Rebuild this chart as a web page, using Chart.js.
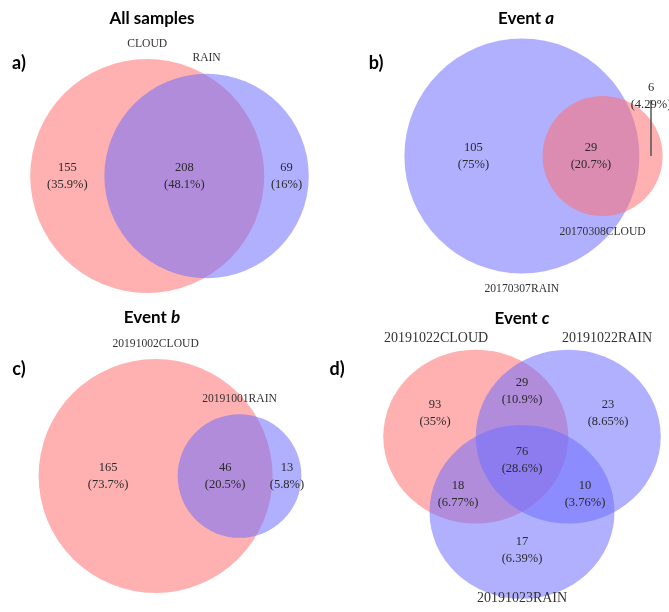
<!DOCTYPE html>
<html>
<head>
<meta charset="utf-8">
<script src="https://cdn.jsdelivr.net/npm/chart.js@4.4.1/dist/chart.umd.min.js"></script>
<style>
  body { margin: 0; background: #fff; width: 669px; height: 612px; position: relative; overflow: hidden; }
  canvas { position: absolute; }
</style>
</head>
<body>
<canvas id="pa" width="334" height="306" style="left:0;top:0"></canvas>
<canvas id="pb" width="335" height="306" style="left:334px;top:0"></canvas>
<canvas id="pc" width="334" height="306" style="left:0;top:306px"></canvas>
<canvas id="pd" width="347" height="306" style="left:322px;top:306px"></canvas>
<script>
// set names and region counts (two sets: only first, both, only second)
const namesA = ["CLOUD", "RAIN"];
const countsA = [155, 208, 69];
const namesB = ["20170307RAIN", "20170308CLOUD"];
const countsB = [105, 29, 6];
const namesC = ["20191002CLOUD", "20191001RAIN"];
const countsC = [165, 46, 13];
// three sets: only1, 1&2, only2, 1&3, all, 2&3, only3
const namesD = ["20191022CLOUD", "20191022RAIN", "20191023RAIN"];
const countsD = [93, 29, 23, 18, 76, 10, 17];

const RED = "rgba(255,111,111,0.55)";
const BLUE = "rgba(111,111,255,0.55)";
const SERIF = '"Liberation Serif", "Times New Roman", serif';
const SANS = 'Lato, "Open Sans", sans-serif';
const TXT = "#2a2a2a";

function pct(v, total) {
  return "(" + Number((v / total * 100).toPrecision(3)) + "%)";
}

function lens(r1, r2, d) {
  if (d >= r1 + r2) return 0;
  if (d <= Math.abs(r1 - r2)) return Math.PI * Math.min(r1, r2) ** 2;
  const a1 = Math.acos((d * d + r1 * r1 - r2 * r2) / (2 * d * r1));
  const a2 = Math.acos((d * d + r2 * r2 - r1 * r1) / (2 * d * r2));
  return r1 * r1 * a1 + r2 * r2 * a2 -
    0.5 * Math.sqrt((-d + r1 + r2) * (d + r1 - r2) * (d - r1 + r2) * (d + r1 + r2));
}

function solveDist(r1, r2, area) {
  let lo = Math.abs(r1 - r2), hi = r1 + r2;
  for (let i = 0; i < 60; i++) {
    const mid = (lo + hi) / 2;
    if (lens(r1, r2, mid) > area) lo = mid; else hi = mid;
  }
  return (lo + hi) / 2;
}

// area proportional two-set layout
function pairVenn(names, counts, colors, lay) {
  const n1 = counts[0] + counts[1], n2 = counts[1] + counts[2];
  const k = lay.R / Math.sqrt(Math.max(n1, n2));
  const r1 = k * Math.sqrt(n1), r2 = k * Math.sqrt(n2);
  const d = solveDist(r1, r2, counts[1] * Math.PI * r1 * r1 / n1);
  const x1 = lay.cx - (d + r2 - r1) / 2, x2 = x1 + d;
  const circles = [{ x: x1, y: lay.cy, r: r1 }, { x: x2, y: lay.cy, r: r2 }];
  const regionX = [(x1 - r1 + x2 - r2) / 2, (x2 - r2 + x1 + r1) / 2, (x1 + r1 + x2 + r2) / 2];
  const total = counts.reduce((a, b) => a + b, 0);
  const labels = [], lines = [];
  counts.forEach((c, i) => {
    let ay = lay.cy;
    if (lay.callout && lay.callout.region === i) {
      ay = lay.cy - lay.callout.lift;
      lines.push({ x: regionX[i], y1: ay + 3.5, y2: lay.cy });
    }
    labels.push({ x: regionX[i], y: ay - 8.5, text: String(c), font: "12.5px " + SERIF });
    labels.push({ x: regionX[i], y: ay + 8.5, text: pct(c, total), font: "12.5px " + SERIF });
  });
  circles.forEach((c, i) => {
    labels.push({ x: c.x, y: c.y + lay.side * (c.r + 15.5), text: names[i], font: "11.6px " + SERIF, color: "#333" });
  });
  return { circles, colors, labels, lines, ys: 1 };
}

// symmetric three-set layout
function tripleVenn(names, counts, colors, lay) {
  const s = lay.s, h = s * Math.sqrt(3) / 2, ys = lay.ys;
  const cy = lay.cy / ys;
  const circles = [
    { x: lay.cx - s / 2, y: cy - h / 3, r: s },
    { x: lay.cx + s / 2, y: cy - h / 3, r: s },
    { x: lay.cx, y: cy + 2 * h / 3, r: s }
  ];
  const total = counts.reduce((a, b) => a + b, 0);
  const labels = [];
  counts.forEach((c, i) => {
    const [dx, dy] = lay.regionOff[i];
    labels.push({ x: lay.cx + dx, y: cy + (dy - 8.5) / ys, text: String(c), font: "12.5px " + SERIF });
    labels.push({ x: lay.cx + dx, y: cy + (dy + 8.5) / ys, text: pct(c, total), font: "12.5px " + SERIF });
  });
  names.forEach((n, i) => {
    const [dx, dy] = lay.nameOff[i];
    labels.push({ x: lay.cx + dx, y: cy + dy / ys, text: n, font: "14px " + SERIF, color: "#333" });
  });
  return { circles, colors, labels, lines: [], ys };
}

function vennPlugin(v, head) {
  return {
    id: "venn",
    afterDatasetsDraw(chart) {
      const { ctx, scales: { x, y } } = chart;
      ctx.save();
      chart.data.datasets.forEach((ds, i) => {
        const pt = chart.getDatasetMeta(i).data[0];
        const c = ds.data[0];
        const rx = Math.abs(x.getPixelForValue(c.x + ds.radius) - pt.x);
        const ry = Math.abs(y.getPixelForValue(c.y + ds.radius) - pt.y);
        ctx.beginPath();
        ctx.ellipse(pt.x, pt.y, rx, ry, 0, 0, Math.PI * 2);
        ctx.fillStyle = ds.fill;
        ctx.fill();
      });
      ctx.strokeStyle = "#555";
      ctx.lineWidth = 1.5;
      v.lines.forEach(l => {
        ctx.beginPath();
        ctx.moveTo(x.getPixelForValue(l.x), y.getPixelForValue(l.y1));
        ctx.lineTo(x.getPixelForValue(l.x), y.getPixelForValue(l.y2));
        ctx.stroke();
      });
      ctx.textAlign = "center";
      ctx.textBaseline = "middle";
      v.labels.forEach(l => {
        ctx.font = l.font;
        ctx.fillStyle = l.color || TXT;
        ctx.fillText(l.text, x.getPixelForValue(l.x), y.getPixelForValue(l.y));
      });
      // panel title and tag
      ctx.fillStyle = "#000";
      ctx.textAlign = "left";
      const f1 = "bold 17px " + SANS, f2 = "italic bold 17px " + SANS;
      ctx.font = f1;
      const w1 = ctx.measureText(head.title[0]).width;
      ctx.font = f2;
      const w2 = ctx.measureText(head.title[1]).width;
      let tx = head.titlePos[0] - (w1 + w2) / 2;
      ctx.font = f1;
      ctx.fillText(head.title[0], tx, head.titlePos[1]);
      ctx.font = f2;
      ctx.fillText(head.title[1], tx + w1, head.titlePos[1]);
      ctx.font = "bold 18px " + SANS;
      ctx.textAlign = "center";
      ctx.fillText(head.tag, head.tagPos[0], head.tagPos[1]);
      ctx.restore();
    }
  };
}

function draw(id, v, head) {
  const cv = document.getElementById(id);
  const datasets = v.circles.map((c, i) => ({
    data: [{ x: c.x, y: c.y }],
    radius: c.r,
    fill: v.colors[i],
    pointRadius: 0
  }));
  new Chart(cv, {
    type: "scatter",
    data: { datasets },
    options: {
      responsive: false,
      animation: false,
      devicePixelRatio: 1,
      events: [],
      layout: { padding: 0 },
      plugins: { legend: { display: false }, tooltip: { enabled: false } },
      scales: {
        x: { type: "linear", display: false, min: 0, max: cv.width },
        y: { type: "linear", display: false, min: 0, max: cv.height / v.ys, reverse: true }
      }
    },
    plugins: [vennPlugin(v, head)]
  });
}

draw("pa", pairVenn(namesA, countsA, [RED, BLUE], { cx: 169.5, cy: 176, R: 117, side: -1 }),
  { title: ["All samples", ""], titlePos: [152, 19], tag: "a)", tagPos: [19, 63] });

draw("pb", pairVenn(namesB, countsB, [BLUE, RED], { cx: 199.5, cy: 156, R: 117.5, side: 1, callout: { region: 2, lift: 59.5 } }),
  { title: ["Event ", "a"], titlePos: [192, 19], tag: "b)", tagPos: [42, 63] });

draw("pc", pairVenn(namesC, countsC, [RED, BLUE], { cx: 170, cy: 170, R: 117, side: -1 }),
  { title: ["Event ", "b"], titlePos: [152, 12], tag: "c)", tagPos: [19, 63] });

draw("pd", tripleVenn(namesD, countsD, [RED, BLUE, BLUE], {
    cx: 200, cy: 155.7, s: 92.5, ys: 0.94,
    regionOff: [[-87, -48], [0, -70], [86, -48], [-64, 33], [0, -1], [63, 33], [0, 89]],
    nameOff: [[-86, -123], [85, -123], [0, 137]]
  }),
  { title: ["Event ", "c"], titlePos: [200, 13], tag: "d)", tagPos: [15, 63] });
</script>
</body>
</html>
